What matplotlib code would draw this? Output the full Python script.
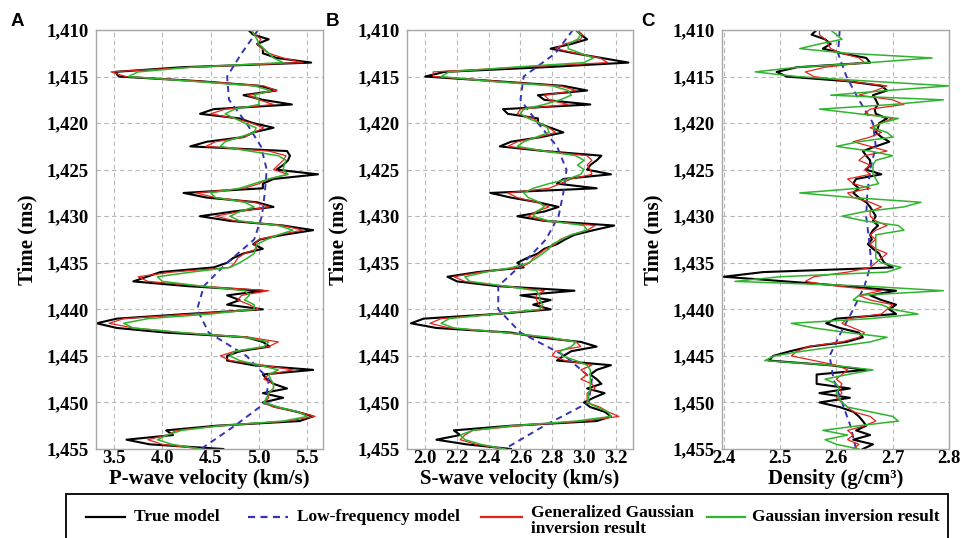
"""Inverted elastic parameters vs. time: P-wave, S-wave velocity and density."""

import matplotlib.pyplot as plt
import numpy as np
from matplotlib.lines import Line2D
from matplotlib.patches import Rectangle
from matplotlib.ticker import FuncFormatter

plt.rcParams["font.family"] = ["Liberation Serif", "DejaVu Serif"]
plt.rcParams["font.weight"] = "bold"
plt.rcParams["axes.labelweight"] = "bold"

# sample times (ms): 0.5 ms for the logs, 2.5 ms for the low-frequency trend
time_ms = np.arange(1410, 1455.01, 0.5)
time_lf = np.arange(1410, 1455.01, 2.5)

# P-wave velocity (km/s)
vp_true = [
    4.89, 4.94, 5.10, 4.98, 5.04, 5.04, 5.18, 5.54, 4.20, 3.51,
    3.55, 4.39, 5.01, 5.18, 4.84, 5.04, 5.34, 4.53, 4.39, 4.80,
    4.94, 5.15, 4.94, 4.84, 4.46, 4.29, 5.29, 5.32, 5.30, 5.25,
    5.18, 5.61, 5.15, 5.04, 5.04, 4.22, 4.46, 4.98, 5.15, 4.73,
    4.39, 4.70, 5.25, 5.56, 5.25, 5.01, 4.94, 5.04, 4.84, 4.73,
    4.67, 4.53, 3.98, 3.84, 3.70, 4.25, 5.04, 4.67, 4.80, 4.67,
    5.04, 4.25, 3.53, 3.32, 3.53, 4.04, 4.87, 5.04, 5.11, 4.80,
    4.67, 4.67, 4.94, 5.56, 5.04, 5.08, 5.15, 5.29, 5.04, 5.25,
    5.04, 5.18, 5.39, 5.56, 5.42, 4.56, 4.04, 4.11, 3.63, 3.87,
    4.63,
]
vp_gg = [
    4.92, 4.96, 5.02, 4.98, 5.03, 5.10, 5.25, 5.45, 4.30, 3.47,
    3.62, 4.40, 5.05, 5.18, 4.88, 5.00, 5.15, 4.65, 4.50, 4.75,
    4.92, 5.05, 4.95, 4.85, 4.55, 4.45, 5.10, 5.28, 5.25, 5.20,
    5.15, 5.30, 5.10, 5.00, 4.85, 4.35, 4.55, 4.95, 5.10, 4.80,
    4.55, 4.75, 5.25, 5.45, 5.20, 5.00, 4.95, 4.98, 4.85, 4.78,
    4.75, 4.70, 4.10, 3.75, 3.85, 4.40, 5.10, 4.82, 4.78, 4.90,
    5.00, 4.30, 3.60, 3.45, 3.70, 4.20, 4.90, 5.20, 5.10, 4.75,
    4.60, 4.70, 5.05, 5.35, 5.10, 5.05, 5.15, 5.15, 5.10, 5.10,
    5.05, 5.15, 5.40, 5.58, 5.30, 4.60, 4.15, 4.05, 3.85, 4.00,
    4.40,
]
vp_gauss = [
    4.92, 4.95, 4.98, 5.00, 5.05, 5.10, 5.15, 5.25, 4.30, 3.75,
    3.65, 4.30, 4.95, 5.12, 4.95, 5.00, 5.00, 4.75, 4.65, 4.75,
    4.85, 4.97, 4.95, 4.80, 4.65, 4.60, 4.90, 5.20, 5.28, 5.26,
    5.25, 5.30, 5.10, 4.95, 4.80, 4.50, 4.55, 4.85, 4.95, 4.80,
    4.70, 4.80, 5.20, 5.35, 5.20, 5.08, 4.98, 4.96, 4.95, 4.88,
    4.80, 4.70, 4.30, 3.95, 4.00, 4.40, 4.85, 4.90, 4.85, 4.95,
    4.95, 4.50, 3.85, 3.60, 3.70, 4.20, 4.85, 5.10, 5.05, 4.75,
    4.70, 4.80, 5.00, 5.20, 5.10, 5.12, 5.15, 5.15, 5.10, 5.08,
    5.05, 5.20, 5.40, 5.50, 5.25, 4.60, 4.20, 4.05, 3.95, 4.10,
    4.40,
]
vp_low = [4.99, 4.82, 4.67, 4.69, 4.87, 5.02, 5.08, 5.06, 5.03, 4.95,
          4.67, 4.43, 4.36, 4.48, 4.87, 5.10, 5.07, 4.75, 4.40]

# S-wave velocity (km/s)
vs_true = [
    2.95, 2.98, 3.02, 2.92, 2.79, 2.94, 3.11, 3.28, 2.75, 2.12,
    2.00, 2.45, 2.87, 3.02, 2.71, 2.75, 3.04, 2.49, 2.52, 2.71,
    2.71, 2.79, 2.87, 2.73, 2.54, 2.47, 2.75, 3.11, 3.08, 3.04,
    3.02, 3.17, 2.87, 2.83, 3.08, 2.41, 2.54, 2.71, 2.84, 2.75,
    2.58, 2.75, 3.19, 3.06, 2.94, 2.88, 2.83, 2.75, 2.71, 2.64,
    2.58, 2.62, 2.33, 2.14, 2.20, 2.45, 2.94, 2.60, 2.79, 2.68,
    2.79, 2.45, 1.99, 1.91, 2.07, 2.54, 2.71, 2.98, 3.08, 2.92,
    2.87, 2.83, 3.17, 3.08, 3.04, 3.08, 3.11, 3.02, 3.13, 3.06,
    3.00, 3.04, 3.13, 3.17, 3.08, 2.54, 2.18, 2.22, 2.07, 2.26,
    2.54,
]
vs_gg = [
    2.96, 2.99, 2.98, 2.88, 2.82, 2.95, 3.10, 3.15, 2.60, 2.05,
    2.05, 2.45, 2.85, 2.95, 2.75, 2.78, 2.90, 2.60, 2.58, 2.68,
    2.72, 2.78, 2.82, 2.72, 2.58, 2.52, 2.75, 3.02, 3.05, 3.02,
    3.04, 3.05, 2.92, 2.85, 2.78, 2.52, 2.58, 2.70, 2.78, 2.70,
    2.65, 2.75, 3.07, 3.02, 2.92, 2.85, 2.82, 2.76, 2.72, 2.68,
    2.66, 2.60, 2.35, 2.18, 2.25, 2.50, 2.75, 2.70, 2.70, 2.72,
    2.75, 2.45, 2.10, 2.03, 2.15, 2.50, 2.75, 2.95, 2.98, 2.82,
    2.80, 2.88, 3.05, 2.98, 3.02, 2.98, 3.05, 3.07, 3.02, 3.02,
    3.02, 3.10, 3.15, 3.22, 3.00, 2.60, 2.30, 2.25, 2.22, 2.32,
    2.50,
]
vs_gauss = [
    2.95, 2.98, 2.96, 2.90, 2.90, 2.98, 3.06, 3.00, 2.55, 2.15,
    2.10, 2.40, 2.80, 2.90, 2.92, 2.85, 2.75, 2.62, 2.60, 2.65,
    2.72, 2.77, 2.78, 2.70, 2.62, 2.58, 2.75, 2.95, 3.00, 2.96,
    3.00, 2.98, 2.90, 2.78, 2.68, 2.62, 2.65, 2.72, 2.75, 2.70,
    2.68, 2.78, 3.00, 3.02, 2.92, 2.86, 2.80, 2.78, 2.74, 2.70,
    2.65, 2.55, 2.38, 2.25, 2.28, 2.50, 2.70, 2.72, 2.72, 2.74,
    2.72, 2.45, 2.15, 2.10, 2.18, 2.50, 2.78, 2.95, 2.92, 2.85,
    2.86, 2.95, 3.02, 3.04, 3.04, 3.04, 3.04, 3.04, 3.03, 3.03,
    3.02, 3.08, 3.15, 3.17, 2.95, 2.55, 2.30, 2.22, 2.25, 2.35,
    2.50,
]
vs_low = [2.93, 2.82, 2.62, 2.60, 2.71, 2.83, 2.89, 2.87, 2.84, 2.76,
          2.62, 2.46, 2.46, 2.60, 2.88, 3.05, 3.03, 2.75, 2.50]

# density (g/cm3)
rho_true = [
    2.565, 2.556, 2.580, 2.590, 2.576, 2.610, 2.653, 2.660, 2.530, 2.494,
    2.512, 2.620, 2.680, 2.690, 2.665, 2.670, 2.674, 2.668, 2.670, 2.690,
    2.676, 2.674, 2.670, 2.680, 2.694, 2.670, 2.647, 2.653, 2.660, 2.660,
    2.653, 2.680, 2.635, 2.630, 2.640, 2.630, 2.640, 2.653, 2.660, 2.665,
    2.670, 2.665, 2.674, 2.665, 2.660, 2.663, 2.656, 2.665, 2.676, 2.680,
    2.685, 2.700, 2.470, 2.400, 2.510, 2.618, 2.706, 2.660, 2.680, 2.706,
    2.694, 2.706, 2.600, 2.582, 2.606, 2.640, 2.647, 2.618, 2.553, 2.518,
    2.488, 2.480, 2.588, 2.653, 2.565, 2.565, 2.565, 2.624, 2.570, 2.624,
    2.570, 2.606, 2.630, 2.640, 2.647, 2.653, 2.635, 2.660, 2.630, 2.665,
    2.647,
]
rho_gg = [
    2.570, 2.570, 2.580, 2.585, 2.590, 2.610, 2.640, 2.650, 2.580, 2.545,
    2.560, 2.620, 2.690, 2.670, 2.640, 2.700, 2.720, 2.660, 2.650, 2.700,
    2.680, 2.660, 2.680, 2.660, 2.630, 2.660, 2.690, 2.650, 2.640, 2.660,
    2.650, 2.660, 2.620, 2.630, 2.660, 2.620, 2.630, 2.660, 2.680, 2.660,
    2.660, 2.670, 2.690, 2.670, 2.660, 2.670, 2.660, 2.670, 2.690, 2.680,
    2.670, 2.660, 2.620, 2.560, 2.545, 2.600, 2.680, 2.640, 2.660, 2.700,
    2.690, 2.680, 2.620, 2.610, 2.630, 2.650, 2.640, 2.610, 2.550, 2.530,
    2.520, 2.560, 2.600, 2.620, 2.610, 2.600, 2.610, 2.605, 2.610, 2.600,
    2.610, 2.620, 2.630, 2.660, 2.670, 2.650, 2.620, 2.630, 2.620, 2.640,
    2.630,
]
rho_gauss = [
    2.590, 2.600, 2.610, 2.570, 2.535, 2.620, 2.770, 2.660, 2.530, 2.456,
    2.530, 2.660, 2.800, 2.690, 2.590, 2.790, 2.700, 2.570, 2.640, 2.710,
    2.680, 2.665, 2.690, 2.700, 2.640, 2.600, 2.660, 2.700, 2.670, 2.665,
    2.665, 2.665, 2.670, 2.675, 2.640, 2.535, 2.630, 2.750, 2.720, 2.650,
    2.610, 2.650, 2.710, 2.720, 2.670, 2.670, 2.670, 2.670, 2.670, 2.670,
    2.680, 2.715, 2.690, 2.500, 2.420, 2.650, 2.790, 2.640, 2.630, 2.680,
    2.700, 2.745, 2.660, 2.520, 2.560, 2.620, 2.690, 2.660, 2.600, 2.540,
    2.490, 2.473, 2.590, 2.665, 2.620, 2.580, 2.600, 2.605, 2.600, 2.605,
    2.610, 2.620, 2.660, 2.700, 2.710, 2.640, 2.576, 2.620, 2.580, 2.600,
    2.640,
]
rho_low = [2.606, 2.603, 2.618, 2.640, 2.665, 2.670, 2.660, 2.655, 2.653, 2.658,
           2.662, 2.650, 2.630, 2.608, 2.588, 2.595, 2.610, 2.625, 2.635]

TRUE_COLOR = "black"
LOW_COLOR = "#3434b4"
GG_COLOR = "#e3241c"
GAUSS_COLOR = "#2eb42e"
DASH = (0, (3.2, 2.4))


def draw_panel(fig, rect, letter, letter_x, curves, xlim, xticks, xlabel):
    true_v, low_v, gg_v, gauss_v = curves
    ax = fig.add_axes(rect)
    ax.plot(true_v, time_ms, color=TRUE_COLOR, linewidth=1.5)
    ax.plot(low_v, time_lf, color=LOW_COLOR, linewidth=1.4, linestyle=DASH)
    ax.plot(gg_v, time_ms, color=GG_COLOR, linewidth=0.9)
    ax.plot(gauss_v, time_ms, color=GAUSS_COLOR, linewidth=1.1)

    ax.set_xlim(*xlim)
    ax.set_ylim(1455, 1410)
    ax.set_xticks(xticks)
    ax.set_xticklabels([f"{v:.1f}" for v in xticks])
    ax.set_yticks(np.arange(1410, 1456, 5))
    ax.yaxis.set_major_formatter(FuncFormatter(lambda v, _: f"{v:,.0f}"))
    ax.tick_params(length=0, labelsize=13.5)
    ax.tick_params(axis="x", pad=1)
    ax.tick_params(axis="y", pad=5)
    ax.grid(True, color="#b8b8b8", linestyle=(0, (4, 3)), linewidth=0.8)
    ax.set_axisbelow(True)
    for spine in ax.spines.values():
        spine.set_color("#a8a8a8")
        spine.set_linewidth(1.0)
    ax.set_xlabel(xlabel, fontsize=15, fontweight="bold", labelpad=1)
    ax.set_ylabel("Time (ms)", fontsize=15, fontweight="bold", labelpad=7)

    fig.text(letter_x / 962, 1 - 21 / 538, letter, fontsize=13.5,
             fontweight="bold", family="Liberation Sans", ha="left", va="center")
    return ax


fig = plt.figure(figsize=(9.62, 5.38), dpi=100)
bottom = 1 - 449 / 538
height = 419 / 538

draw_panel(fig, [96 / 962, bottom, 227 / 962, height], "A", 11,
           (vp_true, vp_low, vp_gg, vp_gauss), (3.314, 5.662),
           [3.5, 4.0, 4.5, 5.0, 5.5], "P-wave velocity (km/s)")
draw_panel(fig, [407 / 962, bottom, 226 / 962, height], "B", 326,
           (vs_true, vs_low, vs_gg, vs_gauss), (1.885, 3.309),
           [2.0, 2.2, 2.4, 2.6, 2.8, 3.0, 3.2], "S-wave velocity (km/s)")
draw_panel(fig, [722 / 962, bottom, 227 / 962, height], "C", 641,
           (rho_true, rho_low, rho_gg, rho_gauss), (2.397, 2.8),
           [2.4, 2.5, 2.6, 2.7, 2.8], "Density (g/cm³)")

# legend box along the bottom edge
fig.add_artist(Rectangle((66 / 962, -4 / 538), 882 / 962, 48 / 538,
                         transform=fig.transFigure, fill=False,
                         edgecolor="black", linewidth=1.3, clip_on=False))

legend_y = 1 - 517 / 538
entries = [
    (86, 125, TRUE_COLOR, "-", 134, "True model"),
    (248, 288, LOW_COLOR, DASH, 297, "Low-frequency model"),
    (481, 522, GG_COLOR, "-", 531, "Generalized Gaussian\ninversion result"),
    (707, 745, GAUSS_COLOR, "-", 752, "Gaussian inversion result"),
]
for x_start, x_end, color, style, text_x, label in entries:
    fig.add_artist(Line2D([x_start / 962, x_end / 962], [legend_y, legend_y],
                          transform=fig.transFigure, color=color,
                          linestyle=style, linewidth=1.6))
    text_y = legend_y if "\n" not in label else 1 - 521 / 538
    fig.text(text_x / 962, text_y, label, fontsize=12.5, fontweight="bold",
             ha="left", va="center", linespacing=1.05)

fig.savefig("out.png", dpi=100)
